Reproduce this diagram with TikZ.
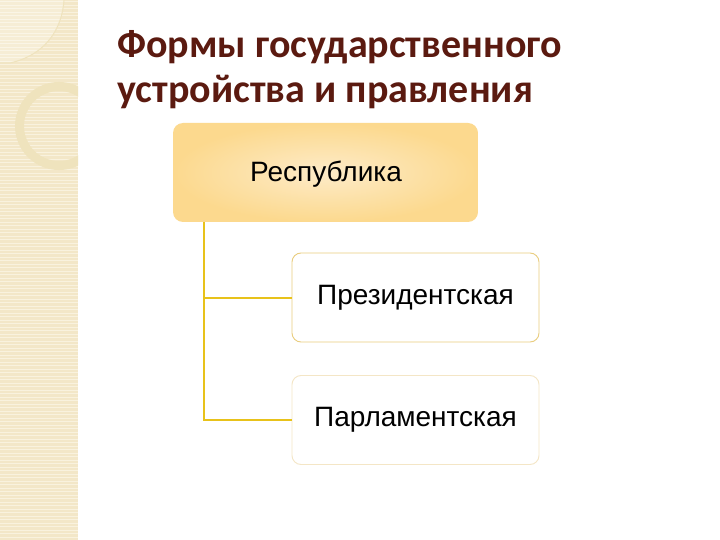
\documentclass[tikz,border=0pt]{standalone}
\usepackage{fontspec}
\setmainfont{Liberation Sans}
\newfontfamily\titlefont{Carlito}
\usetikzlibrary{shadings}
\definecolor{stripbg}{HTML}{F3E7C8}
\definecolor{stripline}{HTML}{F9F2DE}
\definecolor{ringcol}{HTML}{EFE3BD}
\definecolor{titlecol}{HTML}{5B1A10}
\definecolor{linkcol}{HTML}{E8C21A}
\definecolor{boxedge}{HTML}{FCD98E}
\definecolor{boxmid}{HTML}{FDEBC8}
\definecolor{kidA}{HTML}{E9CD7E}
\definecolor{kidB}{HTML}{F4E6C6}
\tikzset{
  kidbox/.style={draw, line width=0.9pt, rounded corners=9pt, fill=white,
    minimum width=247pt, minimum height=89pt, font=\fontsize{28}{32}\selectfont, inner sep=0pt},
  link/.style={draw=linkcol, line width=2pt}
}
\begin{document}
\begin{tikzpicture}[x=1pt,y=-1pt]
\useasboundingbox (0,0) rectangle (720,540);
\fill[white] (0,0) rectangle (720,540);
% left decorative strip
\fill[stripbg] (0,0) rectangle (78,540);
\foreach \yy in {1.5,5,...,540} {\draw[stripline, line width=0.8pt] (0,\yy) -- (78,\yy);}
\begin{scope}
\clip (0,0) rectangle (78,540);
\fill[white, opacity=0.25] (0,0) -- (0,63) -- (10,63) .. controls (45,55) and (62,30) .. (64,0) -- cycle;
\draw[ringcol, line width=9pt] (59,126) circle (39.5);
\draw[ringcol, line width=1pt] (0,63) -- (10,63) .. controls (45,55) and (62,30) .. (64,0);
\end{scope}
% title
\node[anchor=base west, inner sep=0pt, text=titlecol, font=\titlefont\bfseries\fontsize{40}{46}\selectfont] (t1) at (117,58) {Формы государственного};
\node[anchor=base west, inner sep=0pt, text=titlecol, font=\titlefont\bfseries\fontsize{40}{46}\selectfont] (t2) at (117,103) {устройства и правления};
% top box
\shade[rounded corners=10pt, inner color=boxmid, outer color=boxedge] (173,123) rectangle (478,222);
\node[inner sep=0pt, minimum width=305pt, minimum height=99pt, font=\fontsize{28}{32}\selectfont] (rep) at (326,174) {Республика};
% children
\node[kidbox, draw=kidA] (pres) at (415.5,297.5) {Президентская};
\node[kidbox, draw=kidB] (parl) at (415.5,420) {Парламентская};
% connectors
\coordinate (top) at (204,222);
\draw[link] (top) |- (pres.west);
\draw[link] (top) |- (parl.west);
\end{tikzpicture}
\end{document}
